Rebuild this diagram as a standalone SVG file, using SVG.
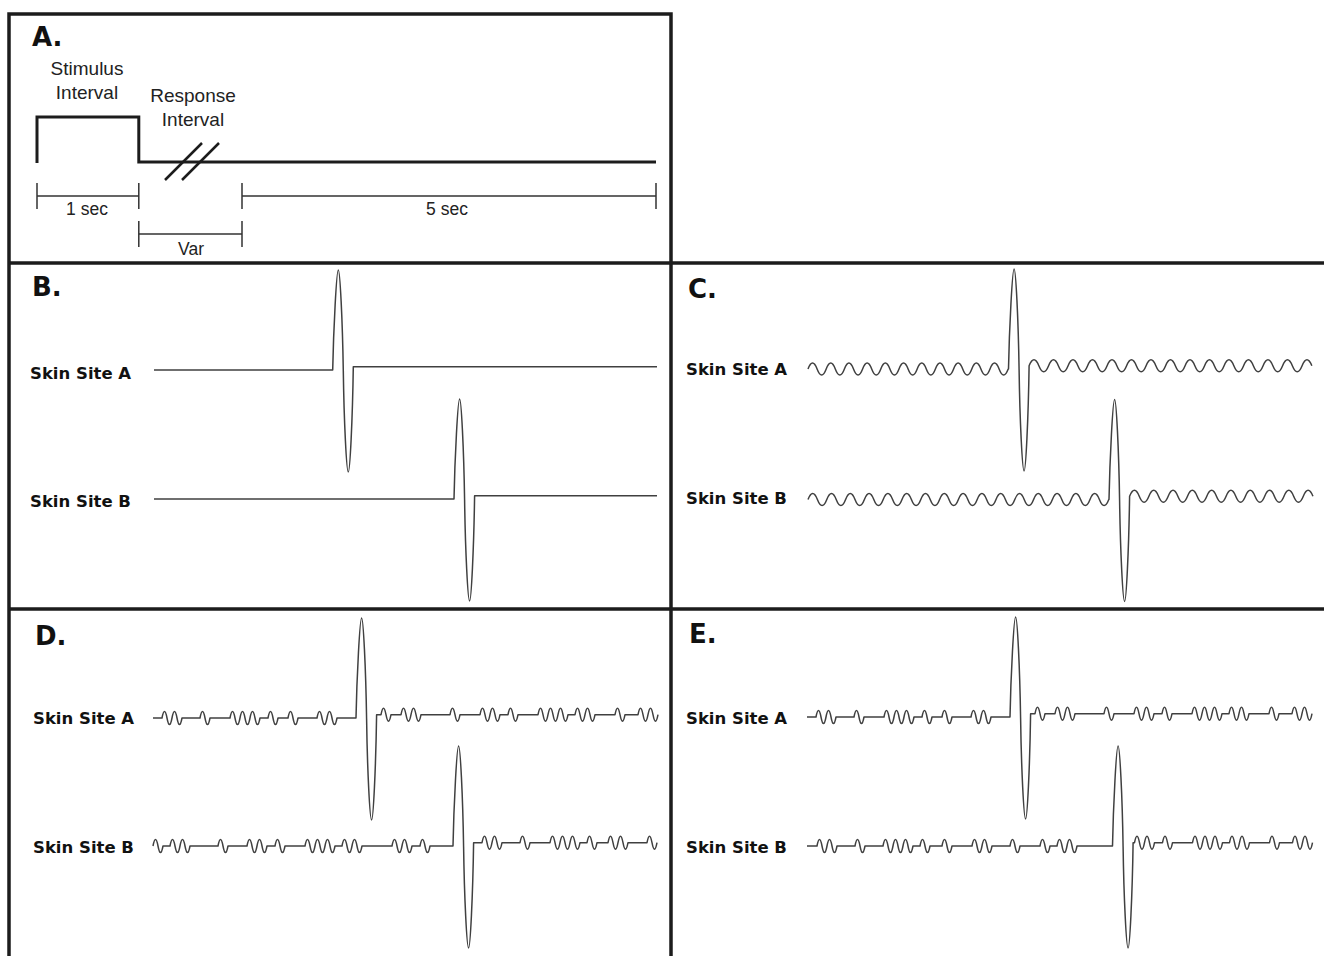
<svg xmlns="http://www.w3.org/2000/svg" width="1324" height="956" viewBox="0 0 1324 956">
<style>
.frame{fill:none;stroke:#1c1c1c;stroke-width:3.5}
.pulse{fill:none;stroke:#1c1c1c;stroke-width:3}
.brk{stroke:#1c1c1c;stroke-width:2.5}
.bar{fill:none;stroke:#333;stroke-width:1.5}
.trace{fill:none;stroke:#404040;stroke-width:1.5;stroke-linejoin:round}
.lbl{font-family:"Liberation Sans",Arial,sans-serif;font-size:19px;fill:#222;text-anchor:middle}
.sc{font-family:"Liberation Sans",Arial,sans-serif;font-size:17.5px;fill:#222;text-anchor:middle}
.pl{font-family:"DejaVu Sans",Verdana,sans-serif;font-weight:bold;font-size:26px;fill:#111}
.site{font-family:"DejaVu Sans",Verdana,sans-serif;font-weight:bold;font-size:16.5px;fill:#111}
</style>
<rect width="1324" height="956" fill="#fff"/>
<g id="frame">
<path class="frame" d="M9,956 V14 H671 V956 M9,263 H1324 M9,609 H1324"/>
</g>
<g id="panelA">
<text class="pl" x="32" y="46">A.</text>
<text class="lbl" x="87" y="75">Stimulus</text>
<text class="lbl" x="87" y="99">Interval</text>
<text class="lbl" x="193" y="102">Response</text>
<text class="lbl" x="193" y="126">Interval</text>
<path class="pulse" d="M37,163 V117 H138.8 V162 H656"/>
<line class="brk" x1="165" y1="180" x2="202" y2="143"/>
<line class="brk" x1="182" y1="180" x2="219" y2="143"/>
<path class="bar" d="M37,196 H138.8 M37,183 V209 M138.8,183 V209 M242,196 H656 M242,183 V209 M656,183 V209 M138.8,234 H242 M138.8,221 V247 M242,221 V247"/>
<text class="sc" x="87" y="215">1 sec</text>
<text class="sc" x="447" y="215">5 sec</text>
<text class="sc" x="191" y="255">Var</text>
</g>
<g id="panelB">
<text class="pl" x="32" y="296">B.</text>
<text class="site" x="30" y="379">Skin Site A</text>
<text class="site" x="30" y="507">Skin Site B</text>
<path class="trace" d="M154,370 H332.7 c0.8,-40 3.8,-100 5.6,-100 c1.7,0 4.2,50 5,101 c0.7,50 3.2,101 5,101 c1.7,0 4.2,-52 5,-105.3 H657"/>
<path class="trace" d="M154,499 H454 c0.8,-40 3.8,-100 5.6,-100 c1.7,0 4.2,50 5,101 c0.7,50 3.2,101 5,101 c1.7,0 4.2,-52 5,-105.3 H657"/>
</g>
<g id="panelC">
<text class="pl" x="688" y="298">C.</text>
<text class="site" x="686" y="375">Skin Site A</text>
<text class="site" x="686" y="504">Skin Site B</text>
<path class="trace" d="M808,369 q4.55,-12 9.1,0 t9.1,0 t9.1,0 t9.1,0 t9.1,0 t9.1,0 t9.1,0 t9.1,0 t9.1,0 t9.1,0 t9.1,0 t9.1,0 t9.1,0 t9.1,0 t9.1,0 t9.1,0 t9.1,0 t9.1,0 t9.1,0 t9.1,0 t9.1,0 t9.1,0 h0.3 c0.8,-40 3.8,-100 5.6,-100 c1.7,0 4.2,50 5,101 c0.7,50 3.2,101 5,101 c1.7,0 4.2,-52 5,-105.3 q4.875,-12 9.75,0 t9.75,0 t9.75,0 t9.75,0 t9.75,0 t9.75,0 t9.75,0 t9.75,0 t9.75,0 t9.75,0 t9.75,0 t9.75,0 t9.75,0 t9.75,0 t9.75,0 t9.75,0 t9.75,0 t9.75,0 t9.75,0 t9.75,0 t9.75,0 t9.75,0 t9.75,0 t9.75,0 t9.75,0 t9.75,0 t9.75,0 t9.75,0 t9.75,0"/>
<path class="trace" d="M808,499.5 q4.7,-12 9.4,0 t9.4,0 t9.4,0 t9.4,0 t9.4,0 t9.4,0 t9.4,0 t9.4,0 t9.4,0 t9.4,0 t9.4,0 t9.4,0 t9.4,0 t9.4,0 t9.4,0 t9.4,0 t9.4,0 t9.4,0 t9.4,0 t9.4,0 t9.4,0 t9.4,0 t9.4,0 t9.4,0 t9.4,0 t9.4,0 t9.4,0 t9.4,0 t9.4,0 t9.4,0 t9.4,0 t9.4,0 h0.2 c0.8,-40 3.8,-100 5.6,-100 c1.7,0 4.2,50 5,101 c0.7,50 3.2,101 5,101 c1.7,0 4.2,-52 5,-105.3 q4.825,-12 9.65,0 t9.65,0 t9.65,0 t9.65,0 t9.65,0 t9.65,0 t9.65,0 t9.65,0 t9.65,0 t9.65,0 t9.65,0 t9.65,0 t9.65,0 t9.65,0 t9.65,0 t9.65,0 t9.65,0 t9.65,0 t9.65,0"/>
</g>
<g id="panelD">
<text class="pl" x="35" y="645">D.</text>
<text class="site" x="33" y="724">Skin Site A</text>
<text class="site" x="33" y="853">Skin Site B</text>
<path class="trace" d="M153,718 h9 q2.5,-13 5,0 t5,0 t5,0 t5,0 h18 q2.5,-13 5,0 t5,0 h20 q2.5,-13 5,0 t5,0 t5,0 t5,0 t5,0 t5,0 h8 q2.5,-13 5,0 t5,0 h10 q2.5,-13 5,0 t5,0 h19 q2.5,-13 5,0 t5,0 t5,0 t5,0 h19 c0.8,-40 3.8,-100 5.6,-100 c1.7,0 4.2,50 5,101 c0.7,50 3.2,101 5,101 c1.7,0 4.2,-52 5,-105.3 h4.4 q2.5,-13 5,0 t5,0 h10 q2.5,-13 5,0 t5,0 t5,0 t5,0 h29 q2.5,-13 5,0 t5,0 h20 q2.5,-13 5,0 t5,0 t5,0 t5,0 h8 q2.5,-13 5,0 t5,0 h20 q2.5,-13 5,0 t5,0 t5,0 t5,0 t5,0 t5,0 h7 q2.5,-13 5,0 t5,0 t5,0 t5,0 h20 q2.5,-13 5,0 t5,0 h13 q2.5,-13 5,0 t5,0 t5,0 t5,0"/>
<path class="trace" d="M153,846 q2.5,-13 5,0 t5,0 h7 q2.5,-13 5,0 t5,0 t5,0 t5,0 h28 q2.5,-13 5,0 t5,0 h19 q2.5,-13 5,0 t5,0 t5,0 t5,0 h8 q2.5,-13 5,0 t5,0 h20 q2.5,-13 5,0 t5,0 t5,0 t5,0 t5,0 t5,0 h7 q2.5,-13 5,0 t5,0 t5,0 t5,0 h30 q2.5,-13 5,0 t5,0 t5,0 t5,0 h8 q2.5,-13 5,0 t5,0 h23 c0.8,-40 3.8,-100 5.6,-100 c1.7,0 4.2,50 5,101 c0.7,50 3.2,101 5,101 c1.7,0 4.2,-52 5,-105.3 h8.4 q2.5,-13 5,0 t5,0 t5,0 t5,0 h18 q2.5,-13 5,0 t5,0 h20 q2.5,-13 5,0 t5,0 t5,0 t5,0 t5,0 t5,0 h7 q2.5,-13 5,0 t5,0 h11 q2.5,-13 5,0 t5,0 t5,0 t5,0 h19 q2.5,-13 5,0 t5,0"/>
</g>
<g id="panelE">
<text class="pl" x="689" y="643">E.</text>
<text class="site" x="686" y="724">Skin Site A</text>
<text class="site" x="686" y="853">Skin Site B</text>
<path class="trace" d="M807,717 h9 q2.5,-13 5,0 t5,0 t5,0 t5,0 h18 q2.5,-13 5,0 t5,0 h20 q2.5,-13 5,0 t5,0 t5,0 t5,0 t5,0 t5,0 h8 q2.5,-13 5,0 t5,0 h10 q2.5,-13 5,0 t5,0 h19 q2.5,-13 5,0 t5,0 t5,0 t5,0 h19 c0.8,-40 3.8,-100 5.6,-100 c1.7,0 4.2,50 5,101 c0.7,50 3.2,101 5,101 c1.7,0 4.2,-52 5,-105.3 h4.4 q2.5,-13 5,0 t5,0 h10 q2.5,-13 5,0 t5,0 t5,0 t5,0 h29 q2.5,-13 5,0 t5,0 h20 q2.5,-13 5,0 t5,0 t5,0 t5,0 h8 q2.5,-13 5,0 t5,0 h20 q2.5,-13 5,0 t5,0 t5,0 t5,0 t5,0 t5,0 h7 q2.5,-13 5,0 t5,0 t5,0 t5,0 h20 q2.5,-13 5,0 t5,0 h13 q2.5,-13 5,0 t5,0 t5,0 t5,0"/>
<path class="trace" d="M807,846 h10 q2.5,-13 5,0 t5,0 t5,0 t5,0 h18 q2.5,-13 5,0 t5,0 h18 q2.5,-13 5,0 t5,0 t5,0 t5,0 t5,0 t5,0 h7 q2.5,-13 5,0 t5,0 h12 q2.5,-13 5,0 t5,0 h20 q2.5,-13 5,0 t5,0 t5,0 t5,0 h18 q2.5,-13 5,0 t5,0 h20 q2.5,-13 5,0 t5,0 h7 q2.5,-13 5,0 t5,0 t5,0 t5,0 h35.5 c0.8,-40 3.8,-100 5.6,-100 c1.7,0 4.2,50 5,101 c0.7,50 3.2,101 5,101 c1.7,0 4.2,-52 5,-105.3 h1.4 q2.5,-13 5,0 t5,0 t5,0 t5,0 h8 q2.5,-13 5,0 t5,0 h20 q2.5,-13 5,0 t5,0 t5,0 t5,0 t5,0 t5,0 h7 q2.5,-13 5,0 t5,0 t5,0 t5,0 h20 q2.5,-13 5,0 t5,0 h13 q2.5,-13 5,0 t5,0 t5,0 t5,0"/>
</g>
</svg>
